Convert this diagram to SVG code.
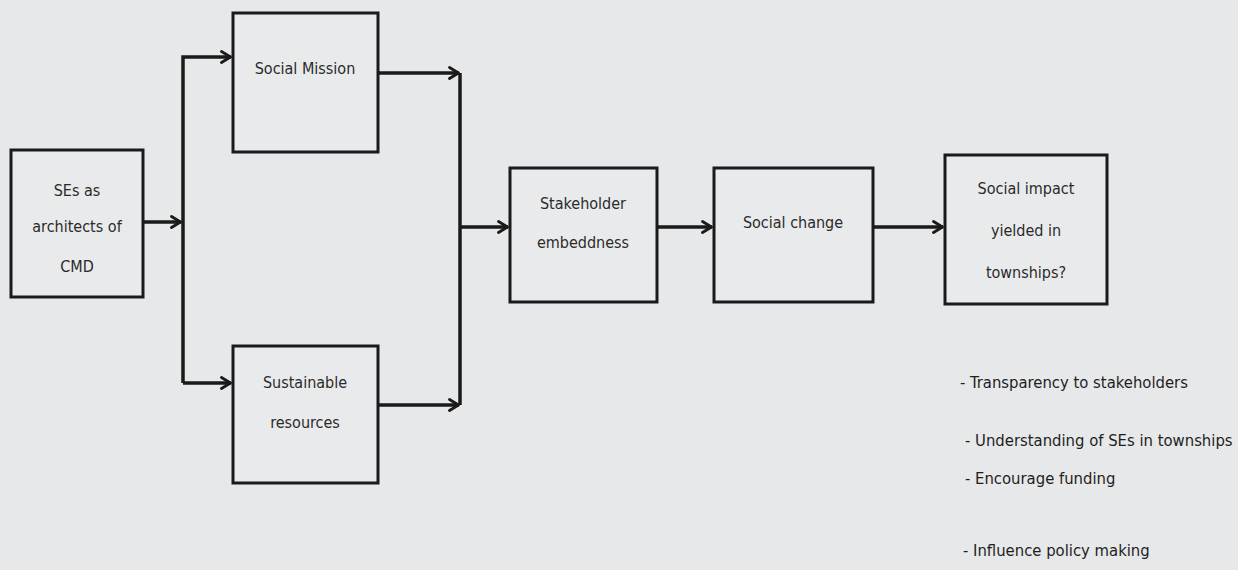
<svg xmlns="http://www.w3.org/2000/svg" width="1238" height="570" viewBox="0 0 1238 570">
  <style>
    .box { fill: #e9eaec; stroke: #1a1a1a; stroke-width: 3; }
    .lbl { font-family: "Liberation Sans Narrow", "DejaVu Sans Condensed", "Open Sans", sans-serif; font-size: 16px; fill: #2a2a2a; text-anchor: middle; }
    .note { font-family: "Liberation Sans Narrow", "DejaVu Sans Condensed", "Open Sans", sans-serif; font-size: 16.5px; fill: #1e1e1e; }
    .wire { fill: none; stroke: #1a1a1a; stroke-width: 3.5; stroke-linejoin: miter; }
  </style>
  <defs>
    <marker id="chev" viewBox="0 0 12 14" refX="11" refY="7" markerWidth="12" markerHeight="14" markerUnits="userSpaceOnUse" orient="auto">
      <path d="M1.5,1.5 L10.5,7 L1.5,12.5" fill="none" stroke="#1a1a1a" stroke-width="2.8" stroke-linecap="round" stroke-linejoin="round"/>
    </marker>
  </defs>
  <rect x="0" y="0" width="1238" height="570" fill="#e7e8ea"/>

  <g id="connectors">
    <!-- SEs to left bus -->
    <path class="wire" d="M143,222 H181" marker-end="url(#chev)"/>
    <!-- left bus to Social Mission and Sustainable resources -->
    <path class="wire" d="M183,383 V57 H231" marker-end="url(#chev)"/>
    <path class="wire" d="M183,383 H231" marker-end="url(#chev)"/>
    <!-- Social Mission and Sustainable resources to right bus -->
    <path class="wire" d="M378,73 H459" marker-end="url(#chev)"/>
    <path class="wire" d="M378,405 H459" marker-end="url(#chev)"/>
    <path class="wire" d="M460,73 V405"/>
    <!-- right bus onward -->
    <path class="wire" d="M460,227 H508" marker-end="url(#chev)"/>
    <path class="wire" d="M657,227 H712" marker-end="url(#chev)"/>
    <path class="wire" d="M873,227 H943" marker-end="url(#chev)"/>
  </g>

  <g id="node-ses">
    <rect class="box" x="11" y="150" width="132" height="147"/>
    <text class="lbl" x="77" y="196">SEs as</text>
    <text class="lbl" x="77" y="232">architects of</text>
    <text class="lbl" x="77" y="272">CMD</text>
  </g>

  <g id="node-mission">
    <rect class="box" x="233" y="13" width="145" height="139"/>
    <text class="lbl" x="305" y="74">Social Mission</text>
  </g>

  <g id="node-resources">
    <rect class="box" x="233" y="346" width="145" height="137"/>
    <text class="lbl" x="305" y="388">Sustainable</text>
    <text class="lbl" x="305" y="428">resources</text>
  </g>

  <g id="node-stakeholder">
    <rect class="box" x="510" y="168" width="147" height="134"/>
    <text class="lbl" x="583" y="209">Stakeholder</text>
    <text class="lbl" x="583" y="248">embeddness</text>
  </g>

  <g id="node-change">
    <rect class="box" x="714" y="168" width="159" height="134"/>
    <text class="lbl" x="793" y="228">Social change</text>
  </g>

  <g id="node-impact">
    <rect class="box" x="945" y="155" width="162" height="149"/>
    <text class="lbl" x="1026" y="194">Social impact</text>
    <text class="lbl" x="1026" y="236">yielded in</text>
    <text class="lbl" x="1026" y="278">townships?</text>
  </g>

  <g id="impact-notes">
    <text class="note" x="960" y="388">- Transparency to stakeholders</text>
    <text class="note" x="965" y="446">- Understanding of SEs in townships</text>
    <text class="note" x="965" y="484">- Encourage funding</text>
    <text class="note" x="963" y="556">-  Influence policy making</text>
  </g>
</svg>
